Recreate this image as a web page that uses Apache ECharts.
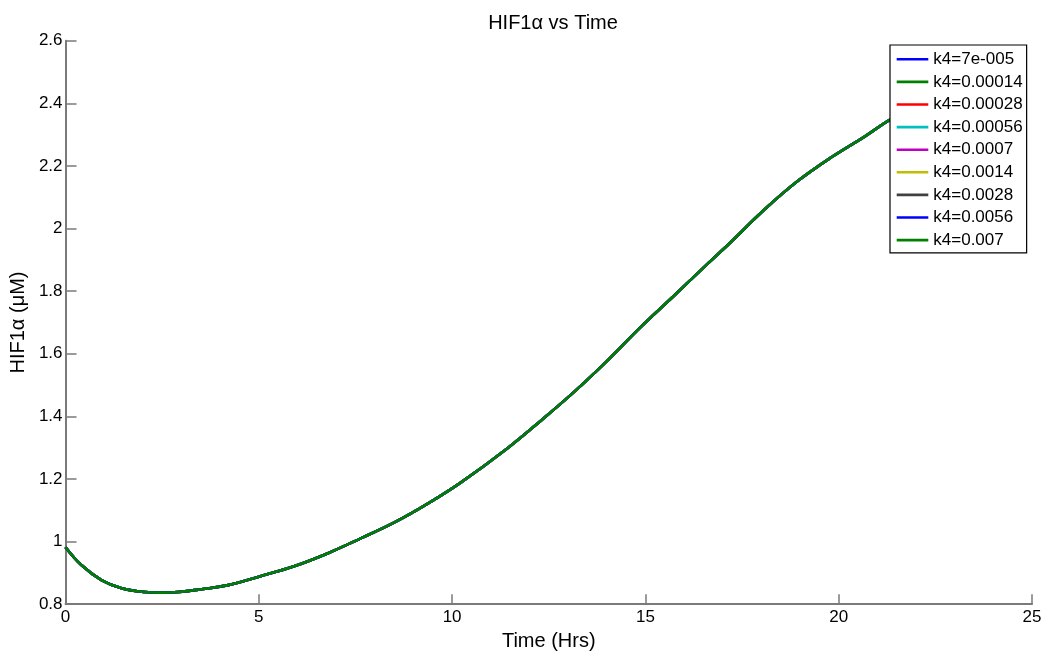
<!DOCTYPE html>
<html>
<head>
<meta charset="utf-8">
<script src="https://cdn.jsdelivr.net/npm/echarts@6/dist/echarts.min.js"></script>
<style>
html,body{margin:0;padding:0;background:#fff;}
#chart{width:1047px;height:659px;}
</style>
</head>
<body>
<div id="chart"></div>
<script>
// Time (Hrs)
var timeHrs = [0, 0.41, 0.93, 1.45, 2.05, 2.48, 2.91, 3.52, 4.21, 5.0, 5.93, 6.79, 7.65, 8.52, 9.38, 10.24, 11.45, 12.31, 13.17, 14.03, 14.89, 15.76, 16.62, 17.22, 18.08, 18.94, 19.81, 20.67, 21.34, 22, 23, 24];
// HIF1a (uM) — all k4 curves overlap
var hif1a = [0.982, 0.925, 0.877, 0.851, 0.839, 0.837, 0.839, 0.848, 0.861, 0.888, 0.922, 0.963, 1.011, 1.062, 1.122, 1.190, 1.300, 1.388, 1.480, 1.580, 1.687, 1.788, 1.889, 1.958, 2.061, 2.152, 2.228, 2.294, 2.349, 2.39, 2.45, 2.50];
var k4Labels = ['k4=7e-005', 'k4=0.00014', 'k4=0.00028', 'k4=0.00056', 'k4=0.0007', 'k4=0.0014', 'k4=0.0028', 'k4=0.0056', 'k4=0.007'];
var lineColors = ['#0000ff', '#008000', '#ff0000', '#00bfbf', '#bf00bf', '#bfbf00', '#404040', '#0000ff', '#008000'];
var xTicks = [0, 5, 10, 15, 20, 25];
var yTicks = [0.8, 1, 1.2, 1.4, 1.6, 1.8, 2, 2.2, 2.4, 2.6];

var FONT = '"Liberation Sans", Arial, Helvetica, sans-serif';
var AXC = '#7a7a7a';

var pts = timeHrs.map(function (t, i) { return [t, hif1a[i]]; });
var series = k4Labels.map(function (name, i) {
  return {
    name: name,
    type: 'line',
    data: pts,
    symbol: 'none',
    smooth: 0.4,
    color: lineColors[i],
    lineStyle: { width: 2.6, color: lineColors[i] },
    z: 2
  };
});

var chart = echarts.init(document.getElementById('chart'));
chart.setOption({
  animation: false,
  backgroundColor: '#ffffff',
  title: {
    text: 'HIF1\u03b1 vs Time',
    left: 548,
    textAlign: 'center',
    top: 8,
    textStyle: { fontFamily: FONT, fontSize: 20, fontWeight: 'normal', color: '#000' }
  },
  grid: { left: 64, right: 15, top: 40.8, bottom: 54.8, containLabel: false },
  xAxis: {
    type: 'value',
    min: xTicks[0],
    max: xTicks[xTicks.length - 1],
    interval: xTicks[1] - xTicks[0],
    name: 'Time (Hrs)',
    nameLocation: 'middle',
    nameGap: 24,
    nameTextStyle: { fontFamily: FONT, fontSize: 20, color: '#000' },
    axisLine: { show: true, onZero: false, lineStyle: { color: AXC, width: 2 } },
    axisTick: { show: true, inside: true, length: 10, lineStyle: { color: AXC, width: 1.5 } },
    axisLabel: { fontFamily: FONT, fontSize: 17, color: '#000', margin: 5 },
    splitLine: { show: false }
  },
  yAxis: {
    type: 'value',
    min: yTicks[0],
    max: yTicks[yTicks.length - 1],
    interval: 0.2,
    name: 'HIF1\u03b1 (\u03bcM)',
    nameLocation: 'middle',
    nameGap: 34,
    nameTextStyle: { fontFamily: FONT, fontSize: 20, color: '#000' },
    axisLine: { show: true, onZero: false, lineStyle: { color: AXC, width: 2 } },
    axisTick: { show: true, inside: true, length: 11, lineStyle: { color: AXC, width: 1.5 } },
    axisLabel: {
      fontFamily: FONT, fontSize: 17, color: '#000', margin: 3,
      formatter: function (v) { return String(Math.round(v * 10) / 10); }
    },
    splitLine: { show: false }
  },
  legend: {
    orient: 'vertical',
    left: 890,
    top: 45,
    align: 'left',
    z: 50,
    zlevel: 0,
    data: k4Labels,
    icon: 'rect',
    itemWidth: 31.6,
    itemHeight: 2.6,
    itemGap: 5.6,
    padding: [5.8, 4, 4.2, 6.7],
    backgroundColor: '#ffffff',
    borderColor: '#000000',
    borderWidth: 1.2,
    borderRadius: 0,
    selectedMode: false,
    textStyle: { fontFamily: FONT, fontSize: 17, color: '#000', lineHeight: 17 }
  },
  series: series
});
</script>
</body>
</html>
